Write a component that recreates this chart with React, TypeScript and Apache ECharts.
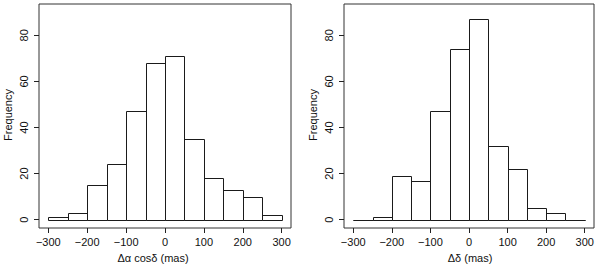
import React, { useEffect, useRef } from "react";
import * as echarts from "echarts";

const binEdges = [-300, -250, -200, -150, -100, -50, 0, 50, 100, 150, 200, 250, 300];
const raCounts = [1, 3, 15, 24, 47, 68, 71, 35, 18, 13, 10, 2];
const decCounts = [0, 1, 19, 17, 47, 74, 87, 32, 22, 5, 3, 0];
const xTicks = [-300, -200, -100, 0, 100, 200, 300];
const yTicks = [0, 20, 40, 60, 80];
const xTitles = ["Δα cosδ (mas)", "Δδ (mas)"];
const yTitle = "Frequency";

const FONT = "Liberation Sans, Arial, Helvetica, sans-serif";

function binsFrom(counts: number[]) {
  return counts.map((c, i) => [binEdges[i], binEdges[i + 1], c]);
}

function fmtTick(v: number) {
  return v < 0 ? "\u2212" + Math.abs(v) : String(v);
}

export default function App() {
  const ref = useRef<HTMLDivElement>(null);
  useEffect(() => {
    if (!ref.current) return;
    const chart = echarts.init(ref.current, null, { renderer: "svg" });
    const grids = [
      { left: 39, top: 4, width: 252, height: 224 },
      { left: 344, top: 4, width: 250, height: 224 },
    ];
    const xAxes = grids.map((_, i) => ({
      type: "value",
      gridIndex: i,
      min: -324,
      max: 324,
      axisLine: { show: false, onZero: false },
      splitLine: { show: false },
      axisTick: { show: true, customValues: xTicks, length: 5, inside: false, lineStyle: { color: "#222" } },
      axisLabel: { customValues: xTicks, formatter: (v: number) => fmtTick(v), color: "#111", fontSize: 11, fontFamily: FONT, margin: 8 },
    }));
    const yAxes = grids.map((_, i) => ({
      type: "value",
      gridIndex: i,
      min: -3.6,
      max: 93.6,
      axisLine: { show: false, onZero: false },
      splitLine: { show: false },
      axisTick: { show: true, customValues: yTicks, length: 5, inside: false, lineStyle: { color: "#222" } },
      axisLabel: { customValues: yTicks, rotate: 90, color: "#111", fontSize: 11, fontFamily: FONT, margin: 10 },
    }));
    const renderItem = (params: any, api: any) => {
      const x0 = api.value(0);
      const x1 = api.value(1);
      const c = api.value(2);
      const p0 = api.coord([x0, 0]);
      const p1 = api.coord([x1, c]);
      const l = Math.round(p0[0]) + 0.5;
      const r = Math.round(p1[0]) + 0.5;
      const b = Math.round(p0[1]) + 0.5;
      const t = Math.round(p1[1]) + 0.5;
      return {
        type: "polyline",
        shape: { points: [[l, b], [l, t], [r, t], [r, b], [l, b]] },
        style: { stroke: "#1a1a1a", fill: "none", lineWidth: 1 },
      };
    };
    const option: any = {
      animation: false,
      backgroundColor: "#fff",
      grid: grids.map((g) => ({ ...g, show: true, borderColor: "#333", borderWidth: 1, backgroundColor: "transparent" })),
      xAxis: xAxes,
      yAxis: yAxes,
      series: [raCounts, decCounts].map((counts, i) => ({
        type: "custom",
        xAxisIndex: i,
        yAxisIndex: i,
        renderItem,
        encode: { x: [0, 1], y: 2 },
        data: binsFrom(counts),
        silent: true,
      })),
      graphic: [
        { type: "text", x: 153, y: 258, style: { text: xTitles[0], fontSize: 11, fontFamily: FONT, fill: "#111", align: "center", verticalAlign: "middle" } },
        { type: "text", x: 470, y: 258, style: { text: xTitles[1], fontSize: 11, fontFamily: FONT, fill: "#111", align: "center", verticalAlign: "middle" } },
        { type: "text", x: 8, y: 115, rotation: Math.PI / 2, style: { text: yTitle, fontSize: 11, fontFamily: FONT, fill: "#111", align: "center", verticalAlign: "middle" } },
        { type: "text", x: 313, y: 115, rotation: Math.PI / 2, style: { text: yTitle, fontSize: 11, fontFamily: FONT, fill: "#111", align: "center", verticalAlign: "middle" } },
      ],
    };
    chart.setOption(option);
    return () => chart.dispose();
  }, []);
  return <div ref={ref} style={{ position: "absolute", left: 0, top: 0, width: 600, height: 267 }} />;
}
